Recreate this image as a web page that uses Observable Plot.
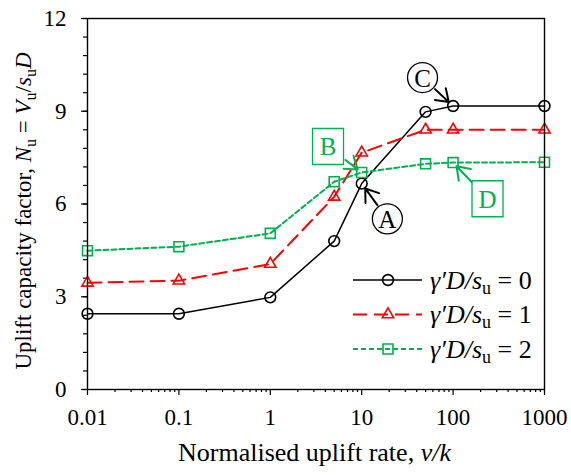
<!DOCTYPE html>
<html><head><meta charset="utf-8">
<script src="https://cdn.jsdelivr.net/npm/d3@7"></script>
<script src="https://cdn.jsdelivr.net/npm/@observablehq/plot@0.6"></script>
<style>body{margin:0;background:#fff;}</style>
</head><body><div id="chart"></div>
<script>
// ---- data ----
const rates = [0.01, 0.1, 1, 5, 10, 50, 100, 1000];
const nuRatio0 = [2.45, 2.45, 2.98, 4.80, 6.66, 8.98, 9.17, 9.17];
const nuRatio1 = [3.45, 3.52, 4.06, 6.23, 7.66, 8.40, 8.40, 8.40];
const nuRatio2 = [4.49, 4.62, 5.05, 6.72, 7.02, 7.30, 7.34, 7.35];
const seriesRatio = ["0", "1", "2"];
const seriesColors = ["#000000", "#ff0000", "#00b050"];
const xTicks = [0.01, 0.1, 1, 10, 100, 1000];
const xTickLabels = ["0.01", "0.1", "1", "10", "100", "1000"];
const yTicks = [0, 3, 6, 9, 12];
const yTickLabels = ["0", "3", "6", "9", "12"];
const annoLabels = ["A", "B", "C", "D"];
const annoX = [19.1, 4.28, 46.3, 238];
const annoY = [5.52, 7.86, 10.09, 6.17];
const annoSeries = [0, 2, 0, 2];
const annoRate = [10, 10, 100, 100];
const annoShape = ["circle", "box", "circle", "box"];

// ---- build tables ----
const seriesValues = [nuRatio0, nuRatio1, nuRatio2];
const rows = seriesValues.flatMap((vals, s) => rates.map((r, i) => ({rate: r, nu: vals[i], s})));
const annos = annoLabels.map((label, i) => ({
  label, x: annoX[i], y: annoY[i], shape: annoShape[i],
  tx: annoRate[i], ty: seriesValues[annoSeries[i]][rates.indexOf(annoRate[i])],
  color: seriesColors[annoSeries[i]] === "#000000" ? "#000000" : "#00b050"
}));

const SERIF = "'Liberation Serif', 'Times New Roman', serif";
const symbols = ["circle", "triangle", "square"];
const symbolR = [5.4, 4.2, 5.6];
const dashes = [null, "14,7", "5,3"];
const widths = [1.5, 2, 2];

const minorX = [];
for (const dec of [0.01, 0.1, 1, 10, 100]) for (let k = 2; k <= 9; k++) minorX.push(dec * k);
const minorY = d3.range(0, 12.0001, 0.6).map(v => +v.toFixed(1));

const boxSymbol = {draw(ctx) { ctx.moveTo(-15.5, -18); ctx.lineTo(15.5, -18); ctx.lineTo(15.5, 18); ctx.lineTo(-15.5, 18); ctx.closePath(); }};

function legendMark(index, scales, values, dims) {
  const g = d3.create("svg:g").attr("font-family", SERIF).attr("text-anchor", "start");
  const right = dims.width - dims.marginRight;
  const bottom = dims.height - dims.marginBottom;
  const d3sym = [d3.symbolCircle, d3.symbolTriangle, d3.symbolSquare];
  seriesRatio.forEach((name, i) => {
    const y = bottom - 109 + i * 34.5;
    g.append("line").attr("x1", right - 191).attr("x2", right - 122).attr("y1", y).attr("y2", y)
      .attr("stroke", seriesColors[i]).attr("stroke-width", widths[i]).attr("stroke-dasharray", dashes[i]);
    g.append("path").attr("d", d3.symbol(d3sym[i], Math.PI * symbolR[i] ** 2)())
      .attr("transform", `translate(${right - 156},${y})`)
      .attr("fill", "none").attr("stroke", seriesColors[i]).attr("stroke-width", 1.6);
    const t = g.append("text").attr("x", right - 114).attr("y", y).attr("dy", "0.33em").attr("font-size", 26).attr("fill", "#000");
    t.append("tspan").attr("font-style", "italic").text("γ′D/s");
    t.append("tspan").attr("font-size", 18).attr("dy", 5).text("u");
    t.append("tspan").attr("dy", -5).text(" = " + name);
  });
  return g.node();
}

function axisLabels(index, scales, values, dims) {
  const g = d3.create("svg:g").attr("font-family", SERIF).attr("fill", "#000");
  const cx = (dims.marginLeft + dims.width - dims.marginRight) / 2;
  const xl = g.append("text").attr("x", cx - 1).attr("y", dims.height - 14).attr("text-anchor", "middle").attr("font-size", 26);
  xl.append("tspan").text("Normalised uplift rate, ");
  xl.append("tspan").attr("font-style", "italic").text("v/k");
  const yl = g.append("text").attr("transform", `translate(31,211) rotate(-90)`).attr("text-anchor", "middle").attr("font-size", 23);
  yl.append("tspan").text("Uplift capacity factor, ");
  yl.append("tspan").attr("font-style", "italic").text("N");
  yl.append("tspan").attr("font-size", 16).attr("dy", 5).text("u");
  yl.append("tspan").attr("dy", -5).text(" = ");
  yl.append("tspan").attr("font-style", "italic").text("V");
  yl.append("tspan").attr("font-size", 16).attr("dy", 5).text("u");
  yl.append("tspan").attr("dy", -5).text("/");
  yl.append("tspan").attr("font-style", "italic").text("s");
  yl.append("tspan").attr("font-size", 16).attr("dy", 5).text("u");
  yl.append("tspan").attr("dy", -5).attr("font-style", "italic").text("D");
  return g.node();
}

const seriesMarks = seriesRatio.flatMap((_, s) => {
  const data = rows.filter(d => d.s === s);
  return [
    Plot.line(data, {x: "rate", y: "nu", stroke: seriesColors[s], strokeWidth: widths[s], strokeDasharray: dashes[s]}),
    Plot.dot(data, {x: "rate", y: "nu", symbol: symbols[s], r: symbolR[s], stroke: seriesColors[s], strokeWidth: 1.6, fill: "none"})
  ];
});

const chart = Plot.plot({
  width: 571, height: 475,
  marginLeft: 87, marginRight: 27, marginTop: 18, marginBottom: 86,
  style: {fontFamily: SERIF, fontSize: "23px", color: "#000", background: "#fff"},
  x: {type: "log", domain: [0.01, 1000], axis: null},
  y: {domain: [0, 12], axis: null},
  marks: [
    Plot.axisX({ticks: minorX, tickSize: 3, tickFormat: () => "", label: null, strokeWidth: 1.2}),
    Plot.axisY({ticks: minorY, tickSize: 4, tickFormat: () => "", label: null, strokeWidth: 1.2}),
    Plot.axisX({ticks: xTicks, tickSize: 6, tickPadding: 13, tickFormat: d => xTickLabels[xTicks.indexOf(d)], label: null, strokeWidth: 1.2, fontSize: 23}),
    Plot.axisY({ticks: yTicks, tickSize: 6, tickPadding: 15, tickFormat: d => yTickLabels[yTicks.indexOf(d)], label: null, strokeWidth: 1.2, fontSize: 23}),
    ...seriesMarks,
    Plot.frame({stroke: "#000", strokeWidth: 1.4}),
    Plot.arrow(annos.filter(d => d.shape === "circle"), {x1: "x", y1: "y", x2: "tx", y2: "ty", stroke: "color", strokeWidth: 2, headLength: 11, headAngle: 70, insetStart: 17, insetEnd: 6}),
    Plot.arrow(annos.filter(d => d.shape === "box"), {x1: "x", y1: "y", x2: "tx", y2: "ty", stroke: "color", strokeWidth: 2, headLength: 11, headAngle: 70, insetStart: 22, insetEnd: 5}),
    Plot.dot(annos.filter(d => d.shape === "circle"), {x: "x", y: "y", r: 15, stroke: "color", strokeWidth: 1.3, fill: "white"}),
    Plot.dot(annos.filter(d => d.shape === "box"), {x: "x", y: "y", symbol: boxSymbol, r: 10, stroke: "color", strokeWidth: 1.3, fill: "white"}),
    Plot.text(annos, {x: "x", y: "y", text: "label", fill: "color", fontSize: 25, fontFamily: SERIF, dy: 1}),
    legendMark,
    axisLabels
  ]
});
document.getElementById("chart").append(chart);
</script>
</body></html>
